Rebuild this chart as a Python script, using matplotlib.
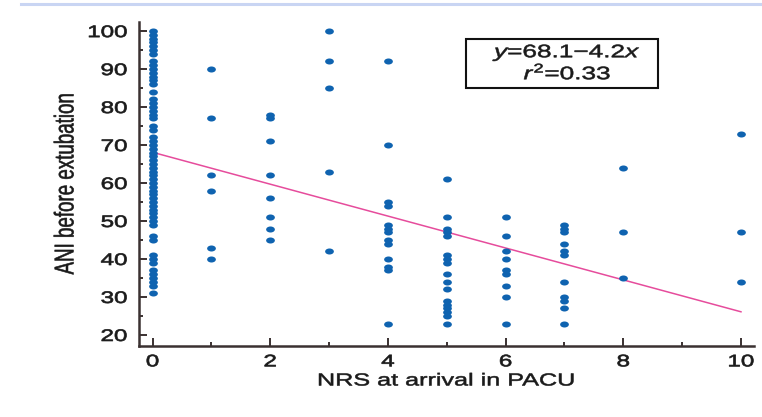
import matplotlib
matplotlib.use('Agg')
import matplotlib.pyplot as plt
import matplotlib.patheffects as pe
from matplotlib.transforms import Affine2D
from matplotlib.path import Path
from matplotlib.lines import Line2D
from matplotlib.patches import Rectangle

plt.rcParams['font.family'] = ['Liberation Sans', 'DejaVu Sans']
plt.rcParams['mathtext.fontset'] = 'custom'
plt.rcParams['mathtext.rm'] = 'Liberation Sans'
plt.rcParams['mathtext.it'] = 'Liberation Sans:italic'

# ANI before extubation, grouped by NRS score at PACU arrival
ani_nrs0 = [100, 99, 98, 97, 96, 95, 94, 92, 91, 90, 89, 88, 87, 86, 84,
            82, 81, 80, 79, 78, 77, 75, 74, 72, 71, 70, 69, 68, 67, 66,
            65, 64, 63, 62, 61, 60, 59, 58, 57, 56, 55, 54, 53, 52, 51, 50, 49,
            46, 45, 41, 40, 39, 37, 36, 35, 34, 33, 31]
ani_nrs1 = [90, 77, 62, 58, 43, 40]
ani_nrs2 = [78, 77, 71, 62, 56, 51, 48, 45]
ani_nrs3 = [100, 92, 85, 63, 42]
ani_nrs4 = [92, 70, 55, 54, 49, 48, 47, 45, 44, 40, 38, 37, 23]
ani_nrs5 = [61, 51, 48, 47, 46, 41, 40, 39, 36, 34, 32, 29, 28, 27, 26, 25, 23]
ani_nrs6 = [51, 46, 42, 40, 37, 36, 33, 30, 23]
ani_nrs7 = [49, 48, 47, 44, 42, 41, 34, 30, 29, 27, 23]
ani_nrs8 = [64, 47, 35]
ani_nrs10 = [73, 47, 34]

groups = [(0, ani_nrs0), (1, ani_nrs1), (2, ani_nrs2), (3, ani_nrs3), (4, ani_nrs4),
          (5, ani_nrs5), (6, ani_nrs6), (7, ani_nrs7), (8, ani_nrs8), (10, ani_nrs10)]

intercept = 68.1
slope = -4.2
r_squared = 0.33

x_ticks = [0, 2, 4, 6, 8, 10]
y_ticks = [20, 30, 40, 50, 60, 70, 80, 90, 100]


class Widen(pe.AbstractPathEffect):
    """Stretch text outlines in their own frame about an anchor of the ink box,
    with an optional thin outline to thicken the strokes."""
    def __init__(self, sx=1.0, sy=1.0, anchor=(0.5, 0.5), stroke=0.0):
        super().__init__()
        self.sx, self.sy, self.anchor, self.stroke = sx, sy, anchor, stroke

    def draw_path(self, renderer, gc, tpath, affine, rgbFace=None):
        ext = tpath.get_extents()
        cx = ext.x0 + self.anchor[0] * ext.width
        cy = ext.y0 + self.anchor[1] * ext.height
        t = Affine2D().translate(-cx, -cy).scale(self.sx, self.sy).translate(cx, cy)
        gc0 = renderer.new_gc()
        gc0.copy_properties(gc)
        if self.stroke and rgbFace is not None:
            gc0.set_linewidth(self.stroke)
            gc0.set_foreground(rgbFace)
        renderer.draw_path(gc0, tpath, t + affine, rgbFace)
        gc0.restore()


STRETCH = 1.45
ink = '#1a1a1a'
spine_col = '#3a3131'
dot_col = '#0f63b0'
line_col = '#e64c9c'

# flat dots
dot = Path.unit_circle().transformed(Affine2D().scale(1.45, 1.0))

fig = plt.figure(figsize=(7.62, 4.17), dpi=100)
ax = fig.add_axes([0.1824, 0.1703, 0.807, 0.777])

for nrs, vals in groups:
    ax.plot([nrs] * len(vals), vals, linestyle='none', marker=dot, markersize=6.3,
            color=dot_col, markeredgewidth=0, zorder=3)

xs = [0, 10]
ax.plot(xs, [intercept + slope * v for v in xs], color=line_col, linewidth=1.1, zorder=2)

ax.set_xlim(-0.23, 10.22)
ax.set_ylim(17.1, 102.4)
ax.set_xticks(x_ticks)
ax.set_xticks(range(1, 10, 2), minor=True)
ax.set_yticks(y_ticks)
ax.set_yticks(range(25, 100, 10), minor=True)
ax.tick_params(which='both', direction='in', colors=spine_col, labelcolor=ink,
               labelsize=12)
ax.tick_params(which='major', length=6, width=1.4)
ax.tick_params(which='minor', length=3, width=1.4)
ax.tick_params(axis='y', pad=8.5)
ax.tick_params(axis='x', pad=6)

for side in ['top', 'right']:
    ax.spines[side].set_visible(False)
for side in ['left', 'bottom']:
    ax.spines[side].set_color(spine_col)
    ax.spines[side].set_linewidth(1.8)

ax.set_xlabel('NRS at arrival in PACU', fontsize=12.5, color=ink, labelpad=3)
ax.set_ylabel('ANI before extubation', fontsize=13.5, color=ink, labelpad=18)

# equation box
ax.add_patch(Rectangle((0.5325, 0.797), 0.311, 0.151, transform=ax.transAxes,
                       fill=False, edgecolor='#111111', linewidth=1.5, zorder=4))
eq1 = ax.text(0.697, 0.905, '$y$=%.1f\u2212%.1f$x$' % (intercept, -slope),
              transform=ax.transAxes, ha='center', va='center', fontsize=13, color=ink)
eq2 = ax.text(0.697, 0.842, '$r^2$=%.2f' % r_squared,
              transform=ax.transAxes, ha='center', va='center', fontsize=13, color=ink)

# thin rule across the top of the figure
fig.add_artist(Line2D([0.028, 1.0], [0.99, 0.99], transform=fig.transFigure,
                      color='#c9d5f3', linewidth=2.2))

fig.canvas.draw()
for lab in ax.get_yticklabels():
    lab.set_path_effects([Widen(sx=STRETCH, anchor=(1.0, 0.5), stroke=0.5)])
for lab in ax.get_xticklabels():
    lab.set_path_effects([Widen(sx=STRETCH, anchor=(0.5, 0.5), stroke=0.5)])
ax.xaxis.label.set_path_effects([Widen(sx=STRETCH, anchor=(0.5, 0.5), stroke=0.4)])
ax.yaxis.label.set_path_effects([Widen(sy=STRETCH, anchor=(0.5, 0.5), stroke=0.4)])
for t in (eq1, eq2):
    t.set_path_effects([Widen(sx=STRETCH, anchor=(0.5, 0.5), stroke=0.4)])

fig.savefig('out.png', dpi=100)
